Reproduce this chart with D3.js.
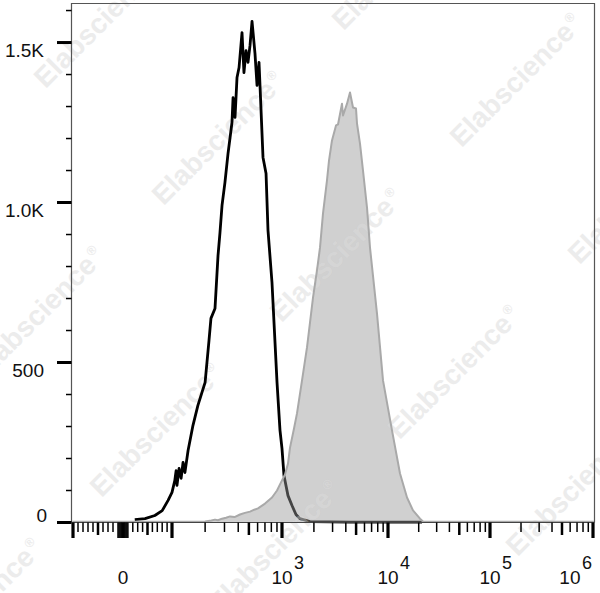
<!DOCTYPE html>
<html><head><meta charset="utf-8">
<script src="https://cdn.jsdelivr.net/npm/d3@7"></script>
<style>
body{margin:0;background:#fff}
svg{display:block}
text{font-family:"Liberation Sans",Arial,Helvetica,sans-serif}
</style>
</head><body>
<svg id="chart" width="600" height="593"></svg>
<script>
// ---------------- data (fluorescence intensity, event count) ----------------
const isoX = [24,45,65,80,92,100,106,109,111,116,121,126,131,140,155,172,200,217,226,246,262,273,285,303,323,351,359,374,390,407,433,451,471,491,512,534,568,593,618,631,672,716,746,811,901,959,1000,1044,1139,1243,1355,1478,1837,4380,21544];
const isoCount = [9,12,22,37,69,94,131,162,116,169,138,188,156,225,303,366,438,569,638,669,834,906,991,1063,1153,1250,1328,1266,1391,1422,1531,1406,1475,1438,1491,1566,1466,1366,1438,1366,1141,1091,913,750,438,288,231,147,84,53,25,12,3,1,1];

const stainX = [-102,162,200,228,246,262,285,310,337,370,415,460,512,560,605,701,811,901,959,1022,1067,1139,1190,1298,1385,1545,1721,1837,1961,2138,2283,2437,2657,2776,2962,3232,3376,3681,3763,4106,4380,4675,4990,5100,5443,5810,6339,6764,7875,8971,10945,13113,15361,17579,20594,22032,1020000];
const stainCount = [2,2,3,6,9,7,12,15,19,17,25,30,34,40,44,59,78,100,119,138,150,184,234,294,341,444,547,625,703,788,859,966,1069,1131,1194,1241,1244,1309,1272,1309,1344,1297,1294,1247,1184,1100,984,859,653,444,288,153,78,38,12,3,2];

const yMajorTicks = [0, 500, 1000, 1500];
const yTickLabels = ["0", "500", "1.0K", "1.5K"];
const yMinorTicks = [100,200,300,400,600,700,800,900,1100,1200,1300,1400,1600];

const xMajorTicks = [-100, 0, 100, 1e3, 1e4, 1e5, 1e6];
const xMediumTicks = [-50, 50, 500, 5e3, 5e4, 5e5];
const xZeroTicks = [-10,-8,-6,-4,-2,2,4,6,8,10];
const xMinorTicks = [-90,-80,-70,-60,-40,-30,-20,20,30,40,60,70,80,90,
  200,300,400,600,700,800,900,
  2000,3000,4000,6000,7000,8000,9000,
  20000,30000,40000,60000,70000,80000,90000,
  200000,300000,400000,600000,700000,800000,900000];
const xLabelTicks = [0, 1e3, 1e4, 1e5, 1e6];
const xLabelBase = ["0", "10", "10", "10", "10"];
const xLabelExp = ["", "3", "4", "5", "6"];

const watermarkText = "Elabscience";

// ---------------- layout ----------------
const W = 600, H = 593;
const L = 71.5, R = 594.5, TOP = 3.5, BOT = 522.5;
const svg = d3.select("#chart");

// biexponential-like display transform: linear in [-100,100], log above
const T = v => Math.abs(v) <= 100 ? v / 100 : Math.sign(v) * (1 + Math.log10(Math.abs(v) / 100));
const xs = d3.scaleLinear()
  .domain([-1.02, -1, 0, 1, 2, 3, 4, 5, 5.015])
  .range([71.5, 73, 123, 172, 282, 388, 490, 593, 594.5]);
const x = v => xs(T(v));
const y = d3.scaleLinear().domain([0, 1622]).range([BOT, TOP]);

const iso = isoX.map((v, i) => ({v, c: isoCount[i]}));
const stain = stainX.map((v, i) => ({v, c: stainCount[i]}));

// ---------------- watermarks (below) ----------------
const wmCenters = [];
for (let i = -4; i <= 7; i++) for (let j = -2; j <= 3; j++) {
  const cx = 218 + i * 118 + j * 62, cy = 138 + i * 117 - j * 292;
  if (cx > -60 && cx < W + 60 && cy > -60 && cy < H + 60) wmCenters.push([cx, cy]);
}
function drawWatermarks(g, fill) {
  const t = g.selectAll("text").data(wmCenters).join("text")
    .attr("transform", d => `translate(${d[0]},${d[1]}) rotate(-45)`)
    .attr("text-anchor", "middle").attr("dy", "0.35em")
    .attr("font-size", 28).attr("font-weight", "bold")
    .attr("fill", fill);
  t.append("tspan").text(watermarkText);
  t.append("tspan").attr("font-size", 13).attr("dy", "-0.9em").attr("dx", 2).text("®");
}
drawWatermarks(svg.append("g"), "#ececec");

// ---------------- histograms ----------------
const line = d3.line().x(d => x(d.v)).y(d => y(d.c));
const area = d3.area().x(d => x(d.v)).y0(y(0)).y1(d => y(d.c));

svg.append("path").datum(iso).attr("d", line)
  .attr("fill", "none").attr("stroke", "#000").attr("stroke-width", 2.8)
  .attr("stroke-linejoin", "round");

svg.append("defs").append("clipPath").attr("id", "stainClip")
  .append("path").datum(stain).attr("d", area);

svg.append("path").datum(stain).attr("d", area)
  .attr("fill", "rgba(150,150,150,0.45)").attr("stroke", "none");

drawWatermarks(svg.append("g").attr("clip-path", "url(#stainClip)"), "rgba(255,255,255,0.3)");

svg.append("path").datum(stain).attr("d", line)
  .attr("fill", "none").attr("stroke", "#a9a9a9").attr("stroke-width", 2)
  .attr("stroke-linejoin", "round");

// ---------------- frame ----------------
const frame = svg.append("g").attr("stroke", "#555").attr("stroke-width", 1.2).attr("fill", "none");
frame.append("path").attr("d", `M${L},${BOT}V${TOP}H${R}V${BOT}`);
frame.append("path").attr("d", `M${L},${BOT}H${R}`).attr("stroke", "#444");

// ---------------- y axis ----------------
const gy = svg.append("g");
gy.selectAll(".ymaj").data(yMajorTicks).join("line")
  .attr("x1", 57).attr("x2", L).attr("y1", d => y(d)).attr("y2", d => y(d))
  .attr("stroke", "#000").attr("stroke-width", 3);
gy.selectAll(".ymin").data(yMinorTicks).join("line")
  .attr("x1", 66).attr("x2", L).attr("y1", d => y(d)).attr("y2", d => y(d))
  .attr("stroke", "#000").attr("stroke-width", 1.5);
gy.selectAll("text").data(yMajorTicks).join("text")
  .attr("x", d => d === 0 ? 47 : 44)
  .attr("y", d => d === 0 ? y(d) - 1 : y(d) + 14)
  .attr("text-anchor", "end").attr("font-size", 19).attr("fill", "#111")
  .text((d, i) => yTickLabels[i]);

// ---------------- x axis ----------------
const gx = svg.append("g").attr("stroke", "#000");
gx.selectAll(".xmin").data(xMinorTicks).join("line")
  .attr("x1", d => x(d)).attr("x2", d => x(d)).attr("y1", BOT).attr("y2", 532)
  .attr("stroke-width", 1.5);
gx.selectAll(".xzero").data(xZeroTicks).join("line")
  .attr("x1", d => x(d)).attr("x2", d => x(d)).attr("y1", BOT).attr("y2", 538)
  .attr("stroke-width", 1.5);
gx.selectAll(".xmed").data(xMediumTicks).join("line")
  .attr("x1", d => x(d)).attr("x2", d => x(d)).attr("y1", BOT).attr("y2", 535)
  .attr("stroke-width", 2.5);
gx.selectAll(".xmaj").data(xMajorTicks).join("line")
  .attr("x1", d => Math.min(x(d), R - 1)).attr("x2", d => Math.min(x(d), R - 1))
  .attr("y1", BOT).attr("y2", 538)
  .attr("stroke-width", 3.2);

const xl = svg.append("g").attr("font-size", 19).attr("fill", "#111");
xLabelTicks.forEach((v, i) => {
  const t = xl.append("text").attr("y", 584);
  if (!xLabelExp[i]) {
    t.attr("x", x(v)).attr("text-anchor", "middle").text(xLabelBase[i]);
    return;
  }
  const base = t.append("tspan").text(xLabelBase[i]);
  t.append("tspan").attr("dy", -15).attr("dx", 1.5).attr("font-size", 18).text(xLabelExp[i]);
  const bw = base.node().getComputedTextLength();
  const tw = t.node().getComputedTextLength() + 1.5;
  let sx = x(v) - bw / 2;
  if (sx + tw > 592) sx = 592 - tw;
  t.attr("x", sx);
});
</script>
</body></html>
